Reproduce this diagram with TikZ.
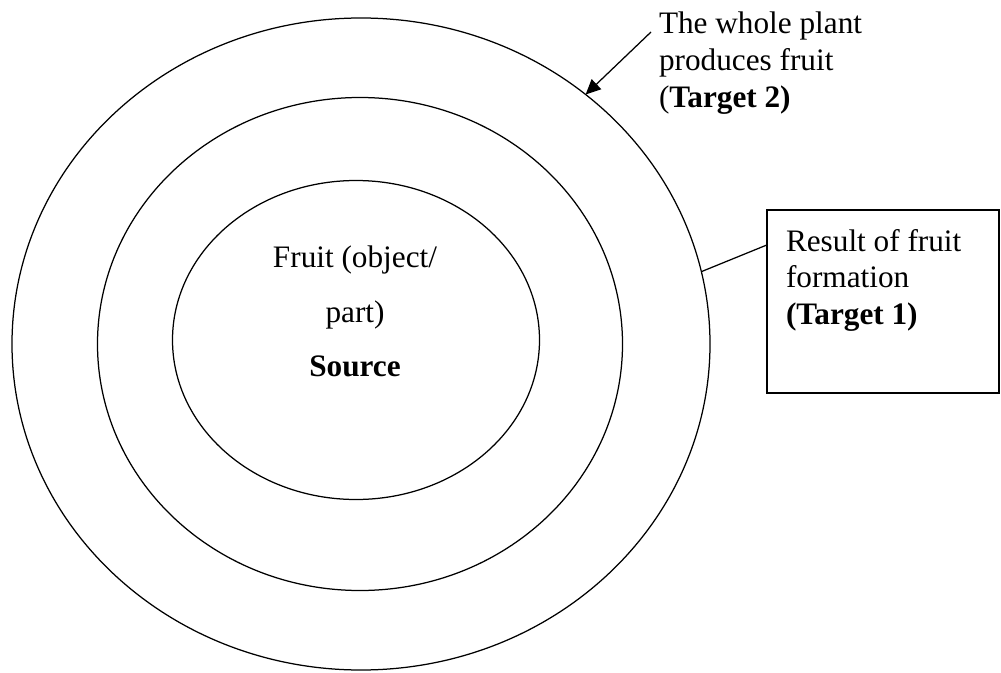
\documentclass[tikz,border=0pt]{standalone}
\usepackage{fontspec}
\setmainfont{Liberation Serif}
\usetikzlibrary{shapes.geometric,arrows.meta}

\tikzset{
  ring/.style={draw, ellipse, line width=0.5pt, inner sep=0pt, outer sep=0pt},
  lbl/.style={inner sep=0pt, outer sep=0pt, align=left, font=\fontsize{12.5}{14.7}\selectfont},
}

\begin{document}
\begin{tikzpicture}[x=0.4pt,y=-0.4pt]
            \useasboundingbox (0,0) rectangle (1001,673);
            % the three nested rings
            \node[ring, minimum width=279.2pt, minimum height=260.8pt] (plant) at (361,344) {};
            \node[ring, minimum width=210pt, minimum height=197.2pt] (result) at (360,344) {};
            \node[ring, minimum width=146.8pt, minimum height=127.6pt] (fruit) at (356,340) {};
            \node[lbl, align=center, anchor=north, font=\fontsize{12.5}{21.8}\selectfont] (fruitlbl) at (355,246)
                 {Fruit (object/\\ part)\\ \textbf{Source}};
            % target 2
            \node[lbl, anchor=north west] (plantlbl) at (659,12)
                 {The whole plant\\ produces fruit\\ (\textbf{Target 2)}};
            \coordinate (tail) at (651,32);
            \draw[line width=0.5pt, -{Triangle[length=6pt,width=5.5pt]}] (tail) -- (plant.48.9);
            % target 1
            \node[draw, line width=0.8pt, inner sep=0pt, outer sep=0pt,
                  minimum width=92.8pt, minimum height=73.2pt] (resultbox) at (883,301.5) {};
            \node[lbl, anchor=north west] (resultlbl) at (786,229)
                 {Result of fruit\\ formation\\ \textbf{(Target 1)}};
            \draw[line width=0.5pt] (resultbox.154.03) -- (plant.12.05);
\end{tikzpicture}
\end{document}
